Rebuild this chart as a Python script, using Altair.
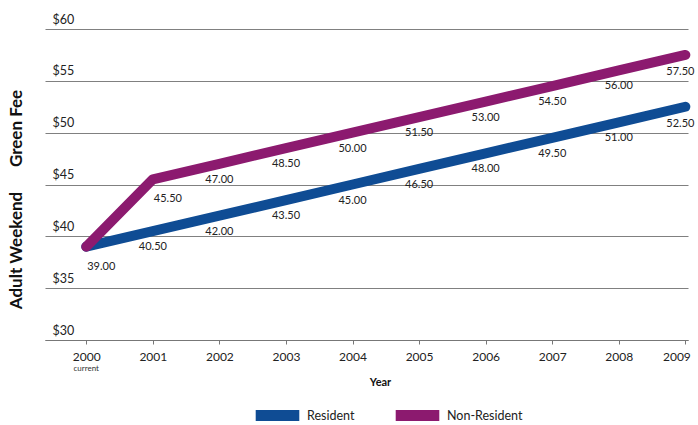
import altair as alt
import pandas as pd

years = [2000, 2001, 2002, 2003, 2004, 2005, 2006, 2007, 2008, 2009]
resident = [39.00, 40.50, 42.00, 43.50, 45.00, 46.50, 48.00, 49.50, 51.00, 52.50]
non_resident = [39.00, 45.50, 47.00, 48.50, 50.00, 51.50, 53.00, 54.50, 56.00, 57.50]
series_names = ["Resident", "Non-Resident"]
series_colors = ["#0f4c94", "#8c1a6f"]

rows = []
for name, vals in zip(series_names, [resident, non_resident]):
    for yr, v in zip(years, vals):
        rows.append({"Year": yr, "Fee": v, "Series": name,
                     "Label": f"{v:.2f}"})
df = pd.DataFrame(rows)

FONT = "Lato"

x_enc = alt.X("Year:Q",
              scale=alt.Scale(domain=[1999.38, 2009.04], nice=False, zero=False),
              axis=alt.Axis(values=years, format="d", title="Year",
                            grid=False, domain=True, domainColor="#777",
                            domainWidth=1.2, tickColor="#777", tickSize=4,
                            labelFontSize=12, labelColor="#222", labelPadding=7,
                            labelFlush=5, labelFlushOffset=5,
                            titleFontSize=11, titleFontWeight="bold",
                            titleColor="#111", titlePadding=14, titleX=335))
y_enc = alt.Y("Fee:Q",
              scale=alt.Scale(domain=[30, 60], nice=False, zero=False),
              axis=alt.Axis(values=[30, 35, 40, 45, 50, 55, 60],
                            labelExpr="'$' + datum.value",
                            grid=True, gridColor="#808080", gridWidth=1.2,
                            domain=False, ticks=False,
                            labelAlign="left", labelPadding=-7,
                            labelBaseline="alphabetic", labelOffset=-6,
                            labelFontSize=12.5, labelColor="#222",
                            title="Adult Weekend\u00a0\u00a0\u00a0\u00a0\u00a0\u00a0Green Fee",
                            titleFontSize=17, titleFontWeight="bold",
                            titleColor="#111", titlePadding=20, titleY=170))

color_enc = alt.Color("Series:N",
                      scale=alt.Scale(domain=series_names, range=series_colors),
                      legend=alt.Legend(title=None, orient="none",
                                        legendX=205, legendY=359,
                                        direction="horizontal",
                                        gridAlign="none",
                                        symbolType="stroke",
                                        symbolStrokeWidth=11, symbolSize=1900,
                                        labelFontSize=12.5, labelColor="#222",
                                        columnPadding=18, labelOffset=2))

base = alt.Chart(df).encode(x=x_enc, y=y_enc)

lines = base.mark_line(strokeWidth=10, strokeCap="round",
                       strokeJoin="round").encode(color=color_enc,
                                                  detail="Series:N")

# value labels sit just under each point; the first points are nudged right
# so they clear the lines, the last ones left so they stay inside
mid_labels = base.transform_filter(
    (alt.datum.Year > 2001) & (alt.datum.Year < 2009)
    | ((alt.datum.Year == 2001) & (alt.datum.Series == "Resident"))
).mark_text(fontSize=11, color="#222", font=FONT, dy=16).encode(text="Label:N")

first_labels = base.transform_filter(
    ((alt.datum.Year == 2000) & (alt.datum.Series == "Resident"))
    | ((alt.datum.Year == 2001) & (alt.datum.Series == "Non-Resident"))
).mark_text(fontSize=11, color="#222", font=FONT, dx=15, dy=20).encode(text="Label:N")

last_labels = base.transform_filter(alt.datum.Year == 2009).mark_text(
    fontSize=11, color="#222", font=FONT, dx=-5, dy=17).encode(text="Label:N")

current_df = pd.DataFrame({"Year": [2000], "Note": ["current"]})
current = alt.Chart(current_df).mark_text(fontSize=8, color="#333",
                                          font=FONT).encode(
    x=x_enc, y=alt.value(340), text="Note:N")

chart = alt.layer(lines, mid_labels, first_labels, last_labels, current).properties(
    width=643, height=311,
    padding={"left": 45, "top": 29, "right": 10, "bottom": 85},
    background="white",
    autosize=alt.AutoSizeParams(type="none"),
).configure(font=FONT).configure_view(stroke=None)

chart.save("out.html", embed_options={"renderer": "svg", "actions": False})
